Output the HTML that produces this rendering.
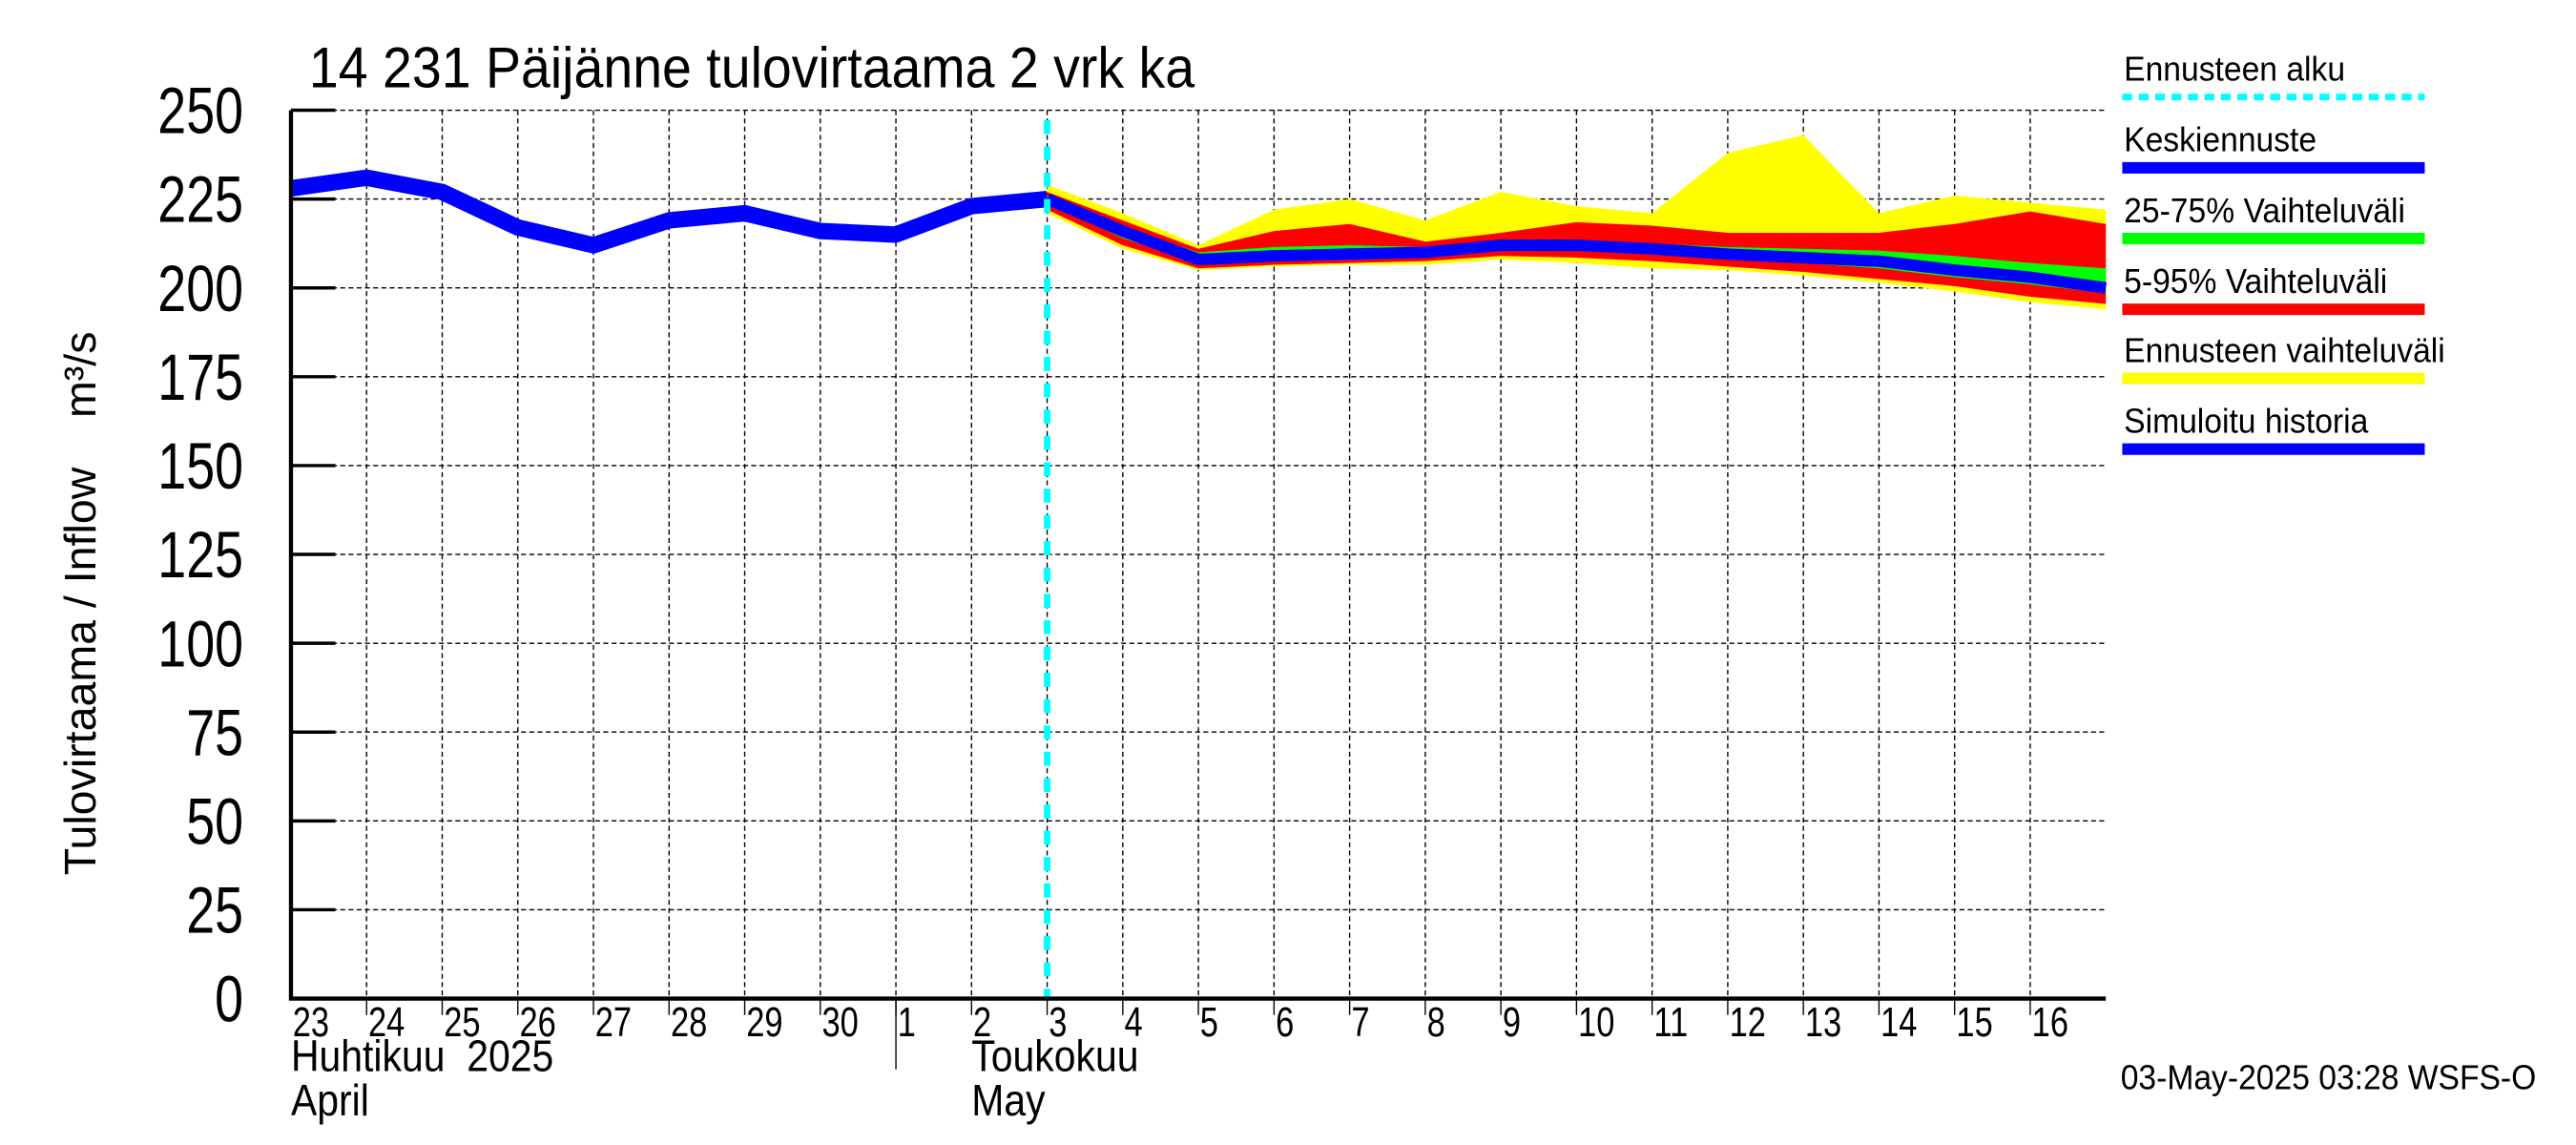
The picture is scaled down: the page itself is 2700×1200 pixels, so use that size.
<!DOCTYPE html>
<html><head><meta charset="utf-8"><style>
html,body{margin:0;padding:0;background:#fff;}
svg{display:block;}
text{font-family:"Liberation Sans",sans-serif;fill:#000;white-space:pre;}
</style></head><body>
<svg id="chart" width="2700" height="1200" viewBox="0 0 1567 696" preserveAspectRatio="none" xmlns="http://www.w3.org/2000/svg" xml:space="preserve">
<g id="grid"></g>
<g id="bands"></g>
<g id="lines"></g>
<g id="axes"></g>
<text x="188" y="53" font-size="35" transform="translate(188 0) scale(0.92 1) translate(-188 0)">14 231 Päijänne tulovirtaama 2 vrk ka</text>
<text transform="translate(58 532) rotate(-90)" font-size="27">Tulovirtaama / Inflow    m³/s</text>
<g id="legend"></g>
<text x="1290" y="662" font-size="21" transform="translate(1290 0) scale(0.93 1) translate(-1290 0)">03-May-2025 03:28 WSFS-O</text>
</svg>
<script>
const NS="http://www.w3.org/2000/svg";
const yTicks=[0,25,50,75,100,125,150,175,200,225,250];
const dayLabels=["23","24","25","26","27","28","29","30","1","2","3","4","5","6","7","8","9","10","11","12","13","14","15","16"];
const histValues=[228,231,227,217,212,219,221,216,215,223,225];
const fcIndex=[10,11,12,13,14,15,16,17,18,19,20,21,22,23,24];
const median=[225,216,208,209,209.5,210,212,212,211,209.5,208.5,207.5,205,203,200];
const yellowHi=[229,221,212,222,225,219,227,223,221,238,243,221,226,224,222];
const yellowLo=[221,211,205,206,206.5,206.5,208,207,205.5,205,203.5,201.5,199,196,194];
const redHi=[227,219,211,216,218,213,215.5,218.5,217.5,215.5,215.5,215.5,218,221.5,218];
const redLo=[222,212,205.5,206.5,207,207.5,209,208.5,207.5,206,204.5,202.5,200.5,197.5,195.5];
const greenHi=[226,217,210,211.5,212,211.5,213,213,212.5,211.5,211,210.5,209,207,205.5];
const greenLo=[224,214,207,208,208.5,208.5,210.5,210.5,210,208,207,205.5,203,201,198.5];
const forecastStart=10;

const X0=177,X1=1281,Y0=607,Y1=67,DAYW=46;
const xs=i=>X0+i*DAYW;
const ys=v=>Y0-(v/250)*(Y0-Y1);
function mk(tag,attrs,parent){const e=document.createElementNS(NS,tag);for(const k in attrs)e.setAttribute(k,attrs[k]);parent.appendChild(e);return e;}
const grid=document.getElementById('grid'),axes=document.getElementById('axes'),bands=document.getElementById('bands'),lines=document.getElementById('lines'),legend=document.getElementById('legend');

yTicks.forEach(v=>{
  const y=ys(v);
  if(v>0){const g=mk('line',{x1:X0,x2:X1,y1:y,y2:y,stroke:'#000','stroke-width':0.8,'stroke-dasharray':'3,2'},grid);
  
  }
  const t=mk('line',{x1:X0,x2:X0+27,y1:y,y2:y,stroke:'#000','stroke-width':2},axes);
  
  
  const l=mk('text',{x:148,y:y+14,'font-size':40,'text-anchor':'end',transform:`translate(148 0) scale(0.78 1) translate(-148 0)`},axes);
  
  
  l.textContent=v;
});
dayLabels.forEach((d,i)=>{
  const x=xs(i);
  if(i>0){const g=mk('line',{x1:x,x2:x,y1:Y1,y2:Y0,stroke:'#000','stroke-width':0.8,'stroke-dasharray':'3,2'},grid);
  
  
  const t=mk('line',{x1:x,x2:x,y1:Y0,y2:Y0+10,stroke:'#000','stroke-width':0.8},axes);
  
  }
  const l=mk('text',{x:x+1,y:630,'font-size':25,transform:`translate(${x+1} 0) scale(0.8 1) translate(${-(x+1)} 0)`},axes);
  
  
  l.textContent=d;
});
function poly(hi,lo,color,name){
  let pts=fcIndex.map((i,k)=>xs(i)+','+ys(hi[k]));
  for(let k=fcIndex.length-1;k>=0;k--)pts.push(xs(fcIndex[k])+','+ys(lo[k]));
  const p=mk('polygon',{points:pts.join(' '),fill:color},bands);
  
  
}
poly(yellowHi,yellowLo,'#ffff00','forecast-range-band');
poly(redHi,redLo,'#ff0000','band-5-95');
poly(greenHi,greenLo,'#00ff00','band-25-75');
const hp=mk('polyline',{points:histValues.map((v,i)=>xs(i)+','+ys(v)).join(' '),fill:'none',stroke:'#0000ff','stroke-width':10,'stroke-linejoin':'round'},lines);


const mp=mk('polyline',{points:fcIndex.map((i,k)=>xs(i)+','+ys(median[k])).join(' '),fill:'none',stroke:'#0000ff','stroke-width':7,'stroke-linejoin':'round'},lines);


const fx=xs(forecastStart);
const fl=mk('line',{x1:fx,x2:fx,y1:73,y2:Y0,stroke:'#00ffff','stroke-width':4,'stroke-dasharray':'8.5,7.5'},lines);


const ax=mk('path',{d:`M${X0} ${Y1} V${Y0} H${X1}`,fill:'none',stroke:'#000','stroke-width':2.5},axes);


const ms=mk('line',{x1:545,x2:545,y1:Y0,y2:650,stroke:'#000','stroke-width':0.8},axes);


[["Huhtikuu  2025",177,651],["April",177,678],["Toukokuu",591,651],["May",591,678]].forEach(a=>{
  const t=mk('text',{x:a[1],y:a[2],'font-size':27,transform:`translate(${a[1]} 0) scale(0.88 1) translate(${-a[1]} 0)`},axes);
  
  
  t.textContent=a[0];
});
const legItems=[["Ennusteen alku","#00ffff",49,true],["Keskiennuste","#0000ff",92,false],["25-75% Vaihteluväli","#00ff00",135,false],["5-95% Vaihteluväli","#ff0000",178,false],["Ennusteen vaihteluväli","#ffff00",220,false],["Simuloitu historia","#0000ff",263,false]];
legItems.forEach(it=>{
  const t=mk('text',{x:1292,y:it[2],'font-size':21,transform:`translate(1292 0) scale(0.93 1) translate(-1292 0)`},legend);
  
  
  t.textContent=it[0];
  const a={x1:1291,x2:1475,y1:it[2]+10,y2:it[2]+10,stroke:it[1],'stroke-width':it[3]?4:7};
  if(it[3])a['stroke-dasharray']='6,4';
  const l=mk('line',a,legend);
  
  
});
</script>
</body></html>
